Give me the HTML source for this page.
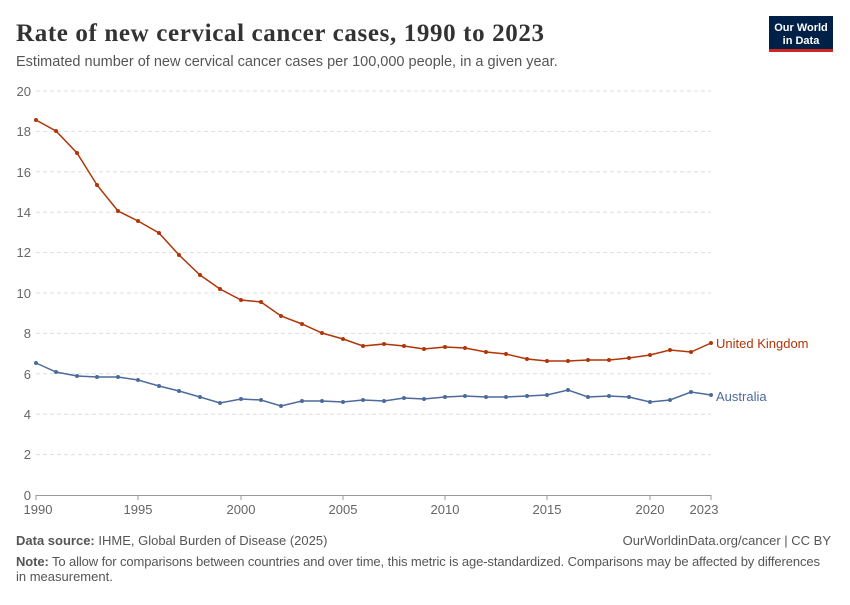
<!DOCTYPE html>
<html><head><meta charset="utf-8"><style>
body{margin:0;background:#fff;width:850px;height:600px;overflow:hidden;font-family:"Liberation Sans",sans-serif}
</style></head><body>
<svg width="850" height="600" xmlns="http://www.w3.org/2000/svg" font-family="Liberation Sans, sans-serif">
<text x="16" y="41" font-family="Liberation Serif, serif" font-size="25" font-weight="bold" fill="#333" textLength="528">Rate of new cervical cancer cases, 1990 to 2023</text>
<text x="16" y="66" font-size="14.5" fill="#555">Estimated number of new cervical cancer cases per 100,000 people, in a given year.</text>
<rect x="769" y="16" width="64" height="35" fill="#002147"/>
<rect x="769" y="49" width="64" height="3" fill="#ce261e"/>
<text x="801" y="31" font-size="11" fill="#fff" text-anchor="middle" font-weight="bold">Our World</text>
<text x="801" y="44" font-size="11" fill="#fff" text-anchor="middle" font-weight="bold">in Data</text>
<g stroke="#ddd" stroke-dasharray="4,3">
<line x1="36" x2="711" y1="91" y2="91"/><line x1="36" x2="711" y1="131.4" y2="131.4"/><line x1="36" x2="711" y1="171.8" y2="171.8"/><line x1="36" x2="711" y1="212.2" y2="212.2"/><line x1="36" x2="711" y1="252.6" y2="252.6"/><line x1="36" x2="711" y1="293" y2="293"/><line x1="36" x2="711" y1="333.4" y2="333.4"/><line x1="36" x2="711" y1="373.8" y2="373.8"/><line x1="36" x2="711" y1="414.2" y2="414.2"/><line x1="36" x2="711" y1="454.6" y2="454.6"/>
</g>
<line x1="36" x2="711" y1="495.5" y2="495.5" stroke="#999"/>
<g font-size="13" fill="#666" text-anchor="end">
<text x="31" y="96">20</text><text x="31" y="136">18</text><text x="31" y="177">16</text><text x="31" y="217">14</text><text x="31" y="257">12</text><text x="31" y="298">10</text><text x="31" y="338">8</text><text x="31" y="379">6</text><text x="31" y="419">4</text><text x="31" y="459">2</text><text x="31" y="500">0</text>
</g>
<g stroke="#999"><line x1="36" x2="36" y1="495" y2="500"/><line x1="138" x2="138" y1="495" y2="500"/><line x1="241" x2="241" y1="495" y2="500"/><line x1="343" x2="343" y1="495" y2="500"/><line x1="445" x2="445" y1="495" y2="500"/><line x1="547" x2="547" y1="495" y2="500"/><line x1="650" x2="650" y1="495" y2="500"/><line x1="711" x2="711" y1="495" y2="500"/></g>
<g font-size="13" fill="#666" text-anchor="middle">
<text x="38" y="514">1990</text><text x="138" y="514">1995</text><text x="241" y="514">2000</text><text x="343" y="514">2005</text><text x="445" y="514">2010</text><text x="547" y="514">2015</text><text x="650" y="514">2020</text><text x="704" y="514">2023</text>
</g>
<polyline fill="none" stroke="#b13507" stroke-width="1.5" points="36,120 56,131 77,153 97,185 118,211 138,221 159,233 179,255 200,275 220,289 241,300 261,302 281,316 302,324 322,333 343,339 363,346 384,344 404,346 424,349 445,347 465,348 486,352 506,354 527,359 547,361 568,361 588,360 609,360 629,358 650,355 670,350 691,352 711,343"/>
<polyline fill="none" stroke="#4c6a9c" stroke-width="1.5" points="36,363 56,372 77,376 97,377 118,377 138,380 159,386 179,391 200,397 220,403 241,399 261,400 281,406 302,401 322,401 343,402 363,400 384,401 404,398 424,399 445,397 465,396 486,397 506,397 527,396 547,395 568,390 588,397 609,396 629,397 650,402 670,400 691,392 711,395"/>
<g fill="#b13507">
<circle cx="36" cy="120" r="2"/><circle cx="56" cy="131" r="2"/><circle cx="77" cy="153" r="2"/><circle cx="97" cy="185" r="2"/><circle cx="118" cy="211" r="2"/><circle cx="138" cy="221" r="2"/><circle cx="159" cy="233" r="2"/><circle cx="179" cy="255" r="2"/><circle cx="200" cy="275" r="2"/><circle cx="220" cy="289" r="2"/><circle cx="241" cy="300" r="2"/><circle cx="261" cy="302" r="2"/><circle cx="281" cy="316" r="2"/><circle cx="302" cy="324" r="2"/><circle cx="322" cy="333" r="2"/><circle cx="343" cy="339" r="2"/><circle cx="363" cy="346" r="2"/><circle cx="384" cy="344" r="2"/><circle cx="404" cy="346" r="2"/><circle cx="424" cy="349" r="2"/><circle cx="445" cy="347" r="2"/><circle cx="465" cy="348" r="2"/><circle cx="486" cy="352" r="2"/><circle cx="506" cy="354" r="2"/><circle cx="527" cy="359" r="2"/><circle cx="547" cy="361" r="2"/><circle cx="568" cy="361" r="2"/><circle cx="588" cy="360" r="2"/><circle cx="609" cy="360" r="2"/><circle cx="629" cy="358" r="2"/><circle cx="650" cy="355" r="2"/><circle cx="670" cy="350" r="2"/><circle cx="691" cy="352" r="2"/><circle cx="711" cy="343" r="2"/>
</g>
<g fill="#4c6a9c">
<circle cx="36" cy="363" r="2"/><circle cx="56" cy="372" r="2"/><circle cx="77" cy="376" r="2"/><circle cx="97" cy="377" r="2"/><circle cx="118" cy="377" r="2"/><circle cx="138" cy="380" r="2"/><circle cx="159" cy="386" r="2"/><circle cx="179" cy="391" r="2"/><circle cx="200" cy="397" r="2"/><circle cx="220" cy="403" r="2"/><circle cx="241" cy="399" r="2"/><circle cx="261" cy="400" r="2"/><circle cx="281" cy="406" r="2"/><circle cx="302" cy="401" r="2"/><circle cx="322" cy="401" r="2"/><circle cx="343" cy="402" r="2"/><circle cx="363" cy="400" r="2"/><circle cx="384" cy="401" r="2"/><circle cx="404" cy="398" r="2"/><circle cx="424" cy="399" r="2"/><circle cx="445" cy="397" r="2"/><circle cx="465" cy="396" r="2"/><circle cx="486" cy="397" r="2"/><circle cx="506" cy="397" r="2"/><circle cx="527" cy="396" r="2"/><circle cx="547" cy="395" r="2"/><circle cx="568" cy="390" r="2"/><circle cx="588" cy="397" r="2"/><circle cx="609" cy="396" r="2"/><circle cx="629" cy="397" r="2"/><circle cx="650" cy="402" r="2"/><circle cx="670" cy="400" r="2"/><circle cx="691" cy="392" r="2"/><circle cx="711" cy="395" r="2"/>
</g>
<text x="716" y="348" font-size="13" fill="#b13507">United Kingdom</text>
<text x="716" y="401" font-size="13" fill="#4c6a9c">Australia</text>
<text x="16" y="545" font-size="13" fill="#555"><tspan font-weight="bold">Data source:</tspan> IHME, Global Burden of Disease (2025)</text>
<text x="831" y="545" font-size="13" fill="#555" text-anchor="end">OurWorldinData.org/cancer | CC BY</text>
<text x="16" y="566" font-size="13" fill="#555" textLength="804"><tspan font-weight="bold">Note:</tspan> To allow for comparisons between countries and over time, this metric is age-standardized. Comparisons may be affected by differences</text>
<text x="16" y="581" font-size="13" fill="#555">in measurement.</text>
</svg>
</body></html>
